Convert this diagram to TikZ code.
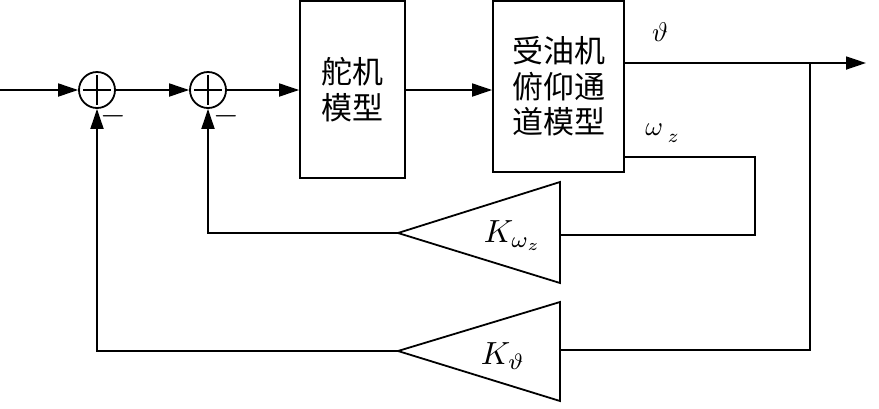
\documentclass[tikz,border=0pt]{standalone}
\usepackage{fontspec}
\newfontfamily\cjk{Noto Sans CJK SC}
\usetikzlibrary{arrows.meta,calc}
\tikzset{
  sumnode/.style={draw, circle, minimum size=36pt, inner sep=0pt, line width=1.8pt,
    path picture={\draw[line width=1.8pt] ([xshift=-14pt]path picture bounding box.center) -- ([xshift=14pt]path picture bounding box.center);
                  \draw[line width=1.8pt] ([yshift=-15pt]path picture bounding box.center) -- ([yshift=15pt]path picture bounding box.center);}},
  blockbox/.style={draw, rectangle, line width=1.8pt, inner sep=0pt, align=center},
  cjktext/.style={font=\cjk\fontsize{31}{35.5}\selectfont},
  gain/.style={draw, line width=1.8pt},
  sig/.style={line width=1.8pt},
  lbl/.style={inner sep=0pt, scale=2.7},
  klbl/.style={inner sep=0pt, scale=3.2},
  minus/.style={inner sep=0pt, scale=3.3}
}
\begin{document}
\begin{tikzpicture}[x=1pt,y=-1pt, >={Triangle[length=20pt,width=13pt]}]
\useasboundingbox (0,0) rectangle (879,408);
% nodes
\coordinate (in) at (0,90);
\node[sumnode] (s1) at (97,90) {};
\node[sumnode] (s2) at (208,90) {};
\node[blockbox, cjktext, minimum width=105pt, minimum height=177pt] (b1) at (352.5,89.5) {舵机\\模型};
\node[blockbox, cjktext, minimum width=131pt, minimum height=171pt] (b2) at (558.5,86.5) {受油机\\俯仰通\\道模型};
% triangles
\coordinate (t1a) at (398,233);
\coordinate (t1t) at (560,182);
\coordinate (t1b) at (560,283);
\coordinate (t1m) at (560,235);
\coordinate (t2a) at (398,351);
\coordinate (t2t) at (560,302);
\coordinate (t2b) at (560,401);
\coordinate (t2m) at (560,350);
\draw[gain] (t1a) -- (t1t) -- (t1b) -- cycle;
\draw[gain] (t2a) -- (t2t) -- (t2b) -- cycle;
\node[klbl] (k1) at (513,236) {$K_{\omega_z}$};
\node[klbl] (k2) at (503,356) {$K_{\vartheta}$};
% coordinates for routing
\coordinate (yth) at (0,63);
\coordinate (yom) at (0,157);
\coordinate (out) at (866,63);
\coordinate (br) at (810,63);
\coordinate (brd) at (810,350);
\coordinate (om1) at (755,157);
\coordinate (om2) at (755,235);
\coordinate (f1) at (208,233);
\coordinate (f2) at (97,351);
% connectors
\draw[sig,->] (in) -- (s1.west);
\draw[sig,->] (s1.east) -- (s2.west);
\draw[sig,->] (s2.east) -- (b1.west |- s2);
\draw[sig,->] (b1.east |- s2) -- (b2.west |- s2);
\draw[sig,->] (b2.east |- yth) -- (out);
\draw[sig] (br) -- (brd) -- (t2m);
\draw[sig] (b2.east |- yom) -- (om1) -- (om2) -- (t1m);
\draw[sig,->] (t1a) -- (f1) -- (s2.south);
\draw[sig,->] (t2a) -- (f2) -- (s1.south);
% labels
\node[lbl] (lth) at (660,32) {$\vartheta$};
\node[lbl] (lom) at (662,133) {$\omega\,\lower2.5pt\hbox{$\scriptstyle z$}$};
\node[minus] (m1) at (113,116) {$-$};
\node[minus] (m2) at (226,116) {$-$};
\end{tikzpicture}
\end{document}
